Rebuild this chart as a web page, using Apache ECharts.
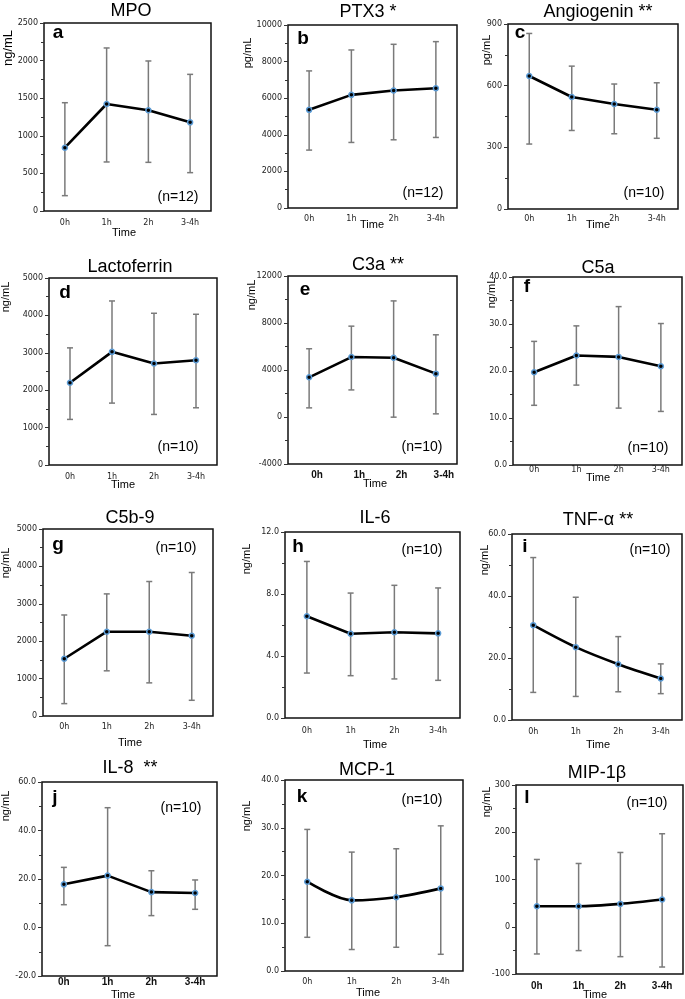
<!DOCTYPE html>
<html><head><meta charset="utf-8">
<script src="https://cdn.jsdelivr.net/npm/echarts@6/dist/echarts.min.js"></script>
<style>html,body{margin:0;padding:0;background:#fff}#c{width:685px;height:999px}</style>
</head><body><div id="c"></div>
<script>
// ---------- data ----------
const categories = ['0h', '1h', '2h', '3-4h'];

const mpoMean = [842, 1423, 1339, 1179];
const mpoHigh = [1440, 2168, 1995, 1817];
const mpoLow = [204, 652, 647, 510];

const ptx3Mean = [5364, 6182, 6418, 6545];
const ptx3High = [7491, 8636, 8945, 9091];
const ptx3Low = [3164, 3582, 3727, 3855];

const angioMean = [647, 545, 511, 483];
const angioHigh = [854, 695, 608, 614];
const angioLow = [316, 382, 366, 344];

const lactoMean = [2198, 3025, 2714, 2802];
const lactoHigh = [3132, 4386, 4057, 4030];
const lactoLow = [1219, 1655, 1352, 1530];

const c3aMean = [3378, 5102, 5046, 3689];
const c3aHigh = [5809, 7731, 9880, 6996];
const c3aLow = [777, 2304, -14, 268];

const c5aMean = [19.75, 23.3, 23.0, 21.0];
const c5aHigh = [26.3, 29.6, 33.7, 30.1];
const c5aLow = [12.7, 17.0, 12.1, 11.4];

const c5b9Mean = [1530, 2254, 2254, 2147];
const c5b9High = [2701, 3265, 3596, 3837];
const c5b9Low = [331, 1208, 886, 420];

const il6Mean = [6.56, 5.44, 5.53, 5.46];
const il6High = [10.1, 8.06, 8.56, 8.39];
const il6Low = [2.9, 2.73, 2.52, 2.43];

const tnfMean = [30.6, 23.5, 18.0, 13.4];
const tnfHigh = [52.4, 39.6, 26.9, 18.1];
const tnfLow = [8.9, 7.6, 9.1, 8.5];

const il8Mean = [17.8, 21.4, 14.6, 14.2];
const il8High = [24.8, 49.4, 23.4, 19.6];
const il8Low = [9.4, -7.5, 4.9, 7.5];

const mcpMean = [18.7, 14.8, 15.45, 17.3];
const mcpHigh = [29.65, 24.9, 25.6, 30.4];
const mcpLow = [7.06, 4.5, 4.97, 3.5];

const mipMean = [43.5, 43.5, 48.4, 57.6];
const mipHigh = [142.4, 133.9, 157.2, 196.8];
const mipLow = [-57.6, -50.5, -63.3, -85.2];

// panel texts
const panelTitles = ['MPO', 'PTX3 *', 'Angiogenin **', 'Lactoferrin', 'C3a **', 'C5a', 'C5b-9', 'IL-6', 'TNF-\u03b1 **', 'IL-8  **', 'MCP-1', 'MIP-1\u03b2'];
const panelLetters = ['a', 'b', 'c', 'd', 'e', 'f', 'g', 'h', 'i', 'j', 'k', 'l'];
const panelN = ['(n=12)', '(n=12)', '(n=10)', '(n=10)', '(n=10)', '(n=10)', '(n=10)', '(n=10)', '(n=10)', '(n=10)', '(n=10)', '(n=10)'];
const panelUnits = ['ng/mL', 'pg/mL', 'pg/mL', 'ng/mL', 'ng/mL', 'ng/mL', 'ng/mL', 'ng/mL', 'ng/mL', 'ng/mL', 'ng/mL', 'ng/mL'];
const yMin = [0, 0, 0, 0, -4000, 0, 0, 0, 0, -20, 0, -100];
const yMax = [2500, 10000, 900, 5000, 12000, 40, 5000, 12, 60, 60, 40, 300];
const yStep = [500, 2000, 300, 1000, 4000, 10, 1000, 4, 20, 20, 10, 100];
const yDecimals = [0, 0, 0, 0, 0, 1, 0, 1, 1, 1, 1, 0];

const means = [mpoMean, ptx3Mean, angioMean, lactoMean, c3aMean, c5aMean, c5b9Mean, il6Mean, tnfMean, il8Mean, mcpMean, mipMean];
const highs = [mpoHigh, ptx3High, angioHigh, lactoHigh, c3aHigh, c5aHigh, c5b9High, il6High, tnfHigh, il8High, mcpHigh, mipHigh];
const lows = [mpoLow, ptx3Low, angioLow, lactoLow, c3aLow, c5aLow, c5b9Low, il6Low, tnfLow, il8Low, mcpLow, mipLow];

// ---------- layout (positions / styles) ----------
// [left, top, width, height]
const L = [
  [44, 23, 167, 188], [288, 25, 169, 183], [508, 24, 170, 185],
  [49, 278, 168, 187], [288, 276, 169, 188], [513, 277, 169, 188],
  [43, 529, 170, 187], [285, 532, 175, 186], [512, 534, 170, 186],
  [42, 782, 175, 194], [285, 780, 178, 191], [516, 785, 167, 189]
];
const titlePos = [[131, 11], [368, 12], [598, 12], [130, 267], [378, 265], [598, 268], [130, 518], [375, 518], [598, 520], [130, 768], [367, 770], [597, 773]];
const letterPos = [[58, 33], [303, 39], [520, 33], [65, 293], [305, 290], [527, 287], [58, 545], [298, 547], [525, 547], [55, 798], [302, 797], [527, 798]];
const nPos = [[178, 197], [423, 193], [644, 193], [178, 447], [422, 447], [648, 448], [176, 548], [422, 550], [650, 550], [181, 808], [422, 800], [647, 803]];
const unitPos = [[8, 48], [248, 53], [487, 50], [6, 297], [252, 295], [492, 293], [6, 563], [247, 559], [485, 560], [6, 806], [247, 816], [487, 802]];
const unitSize = [13, 11, 11, 11, 11, 11, 11, 11, 11, 11, 11, 11];
const timePos = [[124, 233], [372, 225], [598, 225], [123, 485], [375, 484], [598, 478], [130, 743], [375, 745], [598, 745], [123, 995], [368, 993], [595, 995]];
const xLabelMargin = [8, 7, 6, 8, 6, 1, 7, 9, 8, 1, 7, 7];
const boldX = [false, false, false, false, true, false, false, false, false, true, false, true];
const smoothLine = [false, false, false, false, false, false, false, false, true, false, true, true];

const grids = [], xAxes = [], yAxes = [], series = [], graphics = [];
const tickFont = '"DejaVu Sans", sans-serif';
const mainFont = '"Liberation Sans", Arial, sans-serif';

for (let p = 0; p < 12; p++) {
  const [l, t, w, h] = L[p];
  grids.push({left: l, top: t, width: w, height: h, show: true, borderColor: '#111', borderWidth: 1.5, backgroundColor: 'transparent', containLabel: false});
  xAxes.push({
    type: 'category', gridIndex: p, data: categories, boundaryGap: true,
    axisLine: {show: false}, axisTick: {show: false},
    axisLabel: boldX[p]
      ? {fontFamily: mainFont, fontWeight: 'bold', fontSize: 10, color: '#111', margin: xLabelMargin[p], padding: p === 4 ? [0, 0, 0, 16] : 0}
      : {fontFamily: tickFont, fontSize: 8, color: '#222', margin: xLabelMargin[p]}
  });
  const dec = yDecimals[p];
  yAxes.push({
    type: 'value', gridIndex: p, min: yMin[p], max: yMax[p], interval: yStep[p],
    axisLine: {show: false},
    axisTick: {show: true, length: 4, lineStyle: {color: '#333', width: 1}},
    minorTick: {show: true, splitNumber: 2, length: 3, lineStyle: {color: '#333', width: 1}},
    splitLine: {show: false},
    axisLabel: {fontFamily: tickFont, fontSize: 8, color: '#222', margin: 6, formatter: v => v.toFixed(dec)}
  });
  const errData = categories.map((c, i) => [i, highs[p][i], lows[p][i]]);
  series.push({
    type: 'custom', xAxisIndex: p, yAxisIndex: p, data: errData, z: 2,
    encode: {x: 0, y: [1, 2]},
    renderItem: function (params, api) {
      const xi = api.value(0);
      const top = api.coord([xi, api.value(1)]);
      const bot = api.coord([xi, api.value(2)]);
      const cw = 3;
      const st = {stroke: '#7a7a7a', lineWidth: 1.5};
      return {type: 'group', children: [
        {type: 'line', shape: {x1: top[0], y1: top[1], x2: bot[0], y2: bot[1]}, style: st},
        {type: 'line', shape: {x1: top[0] - cw, y1: top[1], x2: top[0] + cw, y2: top[1]}, style: st},
        {type: 'line', shape: {x1: bot[0] - cw, y1: bot[1], x2: bot[0] + cw, y2: bot[1]}, style: st}
      ]};
    }
  });
  series.push({
    type: 'line', xAxisIndex: p, yAxisIndex: p, data: means[p], z: 3,
    smooth: smoothLine[p] ? 0.3 : false,
    lineStyle: {color: '#000', width: 2.6},
    symbol: 'circle', symbolSize: 5, showSymbol: true,
    itemStyle: {color: '#000', borderColor: '#5b9bd5', borderWidth: 1.5},
    emphasis: {disabled: true}, animation: false
  });
  graphics.push({type: 'text', x: titlePos[p][0], y: titlePos[p][1], style: {text: panelTitles[p], font: '18px ' + mainFont, fill: '#000', align: 'center', verticalAlign: 'middle'}});
  graphics.push({type: 'text', x: letterPos[p][0], y: letterPos[p][1], style: {text: panelLetters[p], font: 'bold 19px ' + mainFont, fill: '#000', align: 'center', verticalAlign: 'middle'}});
  graphics.push({type: 'text', x: nPos[p][0], y: nPos[p][1], style: {text: panelN[p], font: '14px ' + mainFont, fill: '#000', align: 'center', verticalAlign: 'middle'}});
  graphics.push({type: 'text', x: unitPos[p][0], y: unitPos[p][1], rotation: Math.PI / 2, style: {text: panelUnits[p], font: unitSize[p] + 'px ' + mainFont, fill: '#000', align: 'center', verticalAlign: 'middle'}});
  graphics.push({type: 'text', x: timePos[p][0], y: timePos[p][1], style: {text: 'Time', font: '11px ' + mainFont, fill: '#000', align: 'center', verticalAlign: 'middle'}});
}

const chart = echarts.init(document.getElementById('c'), null, {renderer: 'canvas'});
chart.setOption({
  animation: false,
  grid: grids, xAxis: xAxes, yAxis: yAxes, series: series, graphic: graphics
});
</script></body></html>
